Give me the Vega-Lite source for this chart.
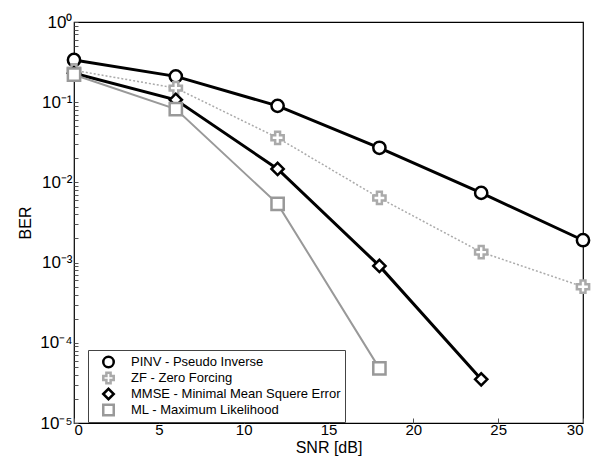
{
  "$schema": "https://vega.github.io/schema/vega-lite/v6.json",
  "autosize": "none",
  "width": 509,
  "height": 401,
  "padding": {"left": 74, "top": 22, "right": 10, "bottom": 48},
  "background": "white",
  "config": {
    "font": "Liberation Sans",
    "view": {"stroke": "black", "strokeWidth": 1.2},
    "axis": {"grid": false, "domain": false, "tickColor": "#555", "labelColor": "black", "titleColor": "black", "titleFontWeight": "normal", "labelFontSize": 15, "titleFontSize": 16}
  },
  "data": {"values": [
    {"series": "PINV - Pseudo Inverse", "snr": 0, "ber": 0.336},
    {"series": "PINV - Pseudo Inverse", "snr": 6, "ber": 0.21},
    {"series": "PINV - Pseudo Inverse", "snr": 12, "ber": 0.09},
    {"series": "PINV - Pseudo Inverse", "snr": 18, "ber": 0.027},
    {"series": "PINV - Pseudo Inverse", "snr": 24, "ber": 0.0074},
    {"series": "PINV - Pseudo Inverse", "snr": 30, "ber": 0.0019},
    {"series": "ZF - Zero Forcing", "snr": 0, "ber": 0.25},
    {"series": "ZF - Zero Forcing", "snr": 6, "ber": 0.15},
    {"series": "ZF - Zero Forcing", "snr": 12, "ber": 0.036},
    {"series": "ZF - Zero Forcing", "snr": 18, "ber": 0.0064},
    {"series": "ZF - Zero Forcing", "snr": 24, "ber": 0.00135},
    {"series": "ZF - Zero Forcing", "snr": 30, "ber": 0.0005},
    {"series": "MMSE - Minimal Mean Squere Error", "snr": 0, "ber": 0.23},
    {"series": "MMSE - Minimal Mean Squere Error", "snr": 6, "ber": 0.107},
    {"series": "MMSE - Minimal Mean Squere Error", "snr": 12, "ber": 0.0147},
    {"series": "MMSE - Minimal Mean Squere Error", "snr": 18, "ber": 0.00091},
    {"series": "MMSE - Minimal Mean Squere Error", "snr": 24, "ber": 0.000035},
    {"series": "ML - Maximum Likelihood", "snr": 0, "ber": 0.22},
    {"series": "ML - Maximum Likelihood", "snr": 6, "ber": 0.082},
    {"series": "ML - Maximum Likelihood", "snr": 12, "ber": 0.0054},
    {"series": "ML - Maximum Likelihood", "snr": 18, "ber": 0.000048}
  ]},
  "encoding": {
    "x": {"field": "snr", "type": "quantitative", "scale": {"domain": [0, 30], "nice": false},
      "axis": {"title": "SNR [dB]", "values": [0, 5, 10, 15, 20, 25, 30], "tickSize": -5, "labelPadding": 4, "titlePadding": 2}},
    "y": {"field": "ber", "type": "quantitative", "scale": {"type": "log", "domain": [0.00001, 1], "nice": false},
      "axis": {"title": "BER", "tickSize": -4, "labelPadding": 6, "titlePadding": 6, "labelFontSize": 17,
        "values": [0.00001,0.00002,0.00003,0.00004,0.00005,0.00006,0.00007,0.00008,0.00009,0.0001,0.0002,0.0003,0.0004,0.0005,0.0006,0.0007,0.0008,0.0009,0.001,0.002,0.003,0.004,0.005,0.006,0.007,0.008,0.009,0.01,0.02,0.03,0.04,0.05,0.06,0.07,0.08,0.09,0.1,0.2,0.3,0.4,0.5,0.6,0.7,0.8,0.9,1],
        "labelExpr": "abs(datum.value-1) < 1e-9 ? '10⁰' : abs(datum.value-0.1) < 1e-9 ? '10⁻¹' : abs(datum.value-0.01) < 1e-10 ? '10⁻²' : abs(datum.value-0.001) < 1e-11 ? '10⁻³' : abs(datum.value-0.0001) < 1e-12 ? '10⁻⁴' : abs(datum.value-0.00001) < 1e-13 ? '10⁻⁵' : ''"}},
    "color": {"field": "series", "type": "nominal",
      "scale": {"domain": ["PINV - Pseudo Inverse", "ZF - Zero Forcing", "MMSE - Minimal Mean Squere Error", "ML - Maximum Likelihood"], "range": ["#000000", "#aaaaaa", "#000000", "#999999"]},
      "legend": {"title": null, "orient": "none", "legendX": 14, "legendY": 328, "strokeColor": "#444", "fillColor": "white", "padding": 4, "labelFontSize": 13, "labelColor": "black", "labelLimit": 300, "symbolSize": 110, "rowPadding": 0, "clipHeight": 16, "symbolStrokeWidth": 2.5, "symbolOffset": 10, "labelOffset": 16, "symbolFillColor": "white"}}
  },
  "layer": [
    {
      "transform": [{"filter": "datum.series == 'PINV - Pseudo Inverse'"}],
      "mark": {"type": "line", "strokeWidth": 3}
    },
    {
      "transform": [{"filter": "datum.series == 'ZF - Zero Forcing'"}],
      "mark": {"type": "line", "strokeWidth": 1.5, "strokeDash": [2, 2]}
    },
    {
      "transform": [{"filter": "datum.series == 'MMSE - Minimal Mean Squere Error'"}],
      "mark": {"type": "line", "strokeWidth": 3}
    },
    {
      "transform": [{"filter": "datum.series == 'ML - Maximum Likelihood'"}],
      "mark": {"type": "line", "strokeWidth": 2}
    },
    {
      "mark": {"type": "point", "filled": false, "fill": "white", "fillOpacity": 1, "strokeWidth": 2.5, "size": 150, "opacity": 1},
      "encoding": {
        "shape": {"field": "series", "type": "nominal", "scale": {"domain": ["PINV - Pseudo Inverse", "ZF - Zero Forcing", "MMSE - Minimal Mean Squere Error", "ML - Maximum Likelihood"], "range": ["circle", "cross", "diamond", "square"]}}
      }
    }
  ]
}
